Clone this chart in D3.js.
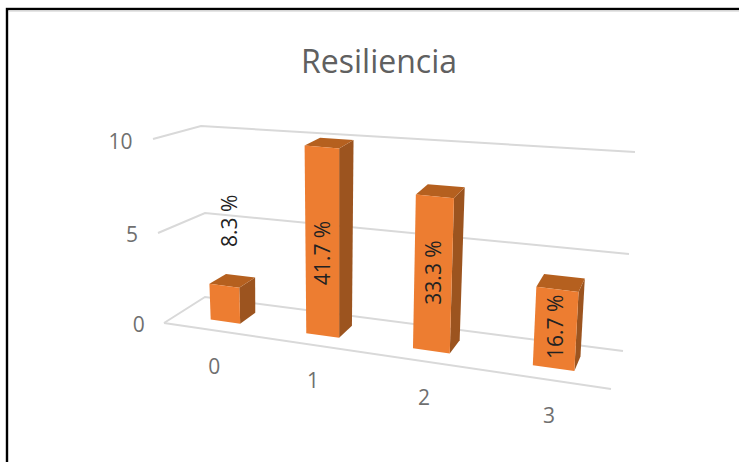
<!DOCTYPE html>
<html><head><meta charset="utf-8">
<script src="https://cdn.jsdelivr.net/npm/d3@7"></script>
<style>html,body{margin:0;padding:0;background:#fff}svg{display:block}text{font-family:"Open Sans",sans-serif}</style>
</head><body><div id="c"></div>
<script>
const title = "Resiliencia";
const categories = ["0","1","2","3"];
const values = [2,10,8,4];
const percentLabels = ["8.3 %","41.7 %","33.3 %","16.7 %"];
const labelLevels = [5.4,4.45,4.1,2.1];
const labelDepths = [0.42,0,0,0];
const ticks = [0,5,10];

const W=739,H=462;
const svg=d3.select("#c").append("svg").attr("width",W).attr("height",H);
svg.append("rect").attr("x",7).attr("y",9).attr("width",W+20).attr("height",H+20).attr("fill","#fff").attr("stroke","#000").attr("stroke-width",2.4);
svg.append("line").attr("x1",9).attr("x2",W).attr("y1",11.2).attr("y2",11.2).attr("stroke","#ddd").attr("stroke-width",1.2);

// corners per level: front-left, front-right, back-right, back-left
const quads=[
 [[164,323],[611,389],[623,351],[205,297]],
 [[158,233],[617,288],[629,254],[205,213]],
 [[153,139],[623,186],[635,152],[201,126]]
];
function homography(q){
 const [[x0,y0],[x1,y1],[x2,y2],[x3,y3]]=q;
 const dx1=x1-x2,dx2=x3-x2,sx=x0-x1+x2-x3,dy1=y1-y2,dy2=y3-y2,sy=y0-y1+y2-y3;
 const det=dx1*dy2-dx2*dy1;
 const g=(sx*dy2-dx2*sy)/det,h=(dx1*sy-sx*dy1)/det;
 const a=x1-x0+g*x1,b=x3-x0+h*x3,d=y1-y0+g*y1,e=y3-y0+h*y3;
 return (u,w)=>{const k=g*u+h*w+1;return [(a*u+b*w+x0)/k,(d*u+e*w+y0)/k];};
}
const floor=homography(quads[0]);
// per-corner height scales: value -> screen x / y
const cornerX=[0,1,2,3].map(i=>d3.scaleLinear().domain(ticks).range(quads.map(q=>q[i][0])));
const cornerY=[0,1,2,3].map(i=>d3.scaleLinear().domain(ticks).range(quads.map(q=>q[i][1])));
function project(u,w,v){
 const p=floor(u,w);
 const wts=[(1-u)*(1-w),u*(1-w),u*w,(1-u)*w];
 let dx=0,dy=0;
 wts.forEach((k,i)=>{dx+=k*(cornerX[i](v)-cornerX[i](0));dy+=k*(cornerY[i](v)-cornerY[i](0));});
 return [p[0]+dx,p[1]+dy];
}
const band=d3.scaleBand().domain(categories).range([0,1.02]).paddingInner(0.68).paddingOuter(0.38);
const depth=d3.scaleLinear().domain([0,1]).range([0.3,0.7]);
const line=d3.line();

// gridlines
const gridG=svg.append("g").attr("fill","none").attr("stroke","#d9d9d9").attr("stroke-width",2);
ticks.forEach(t=>gridG.append("path").attr("d",line([project(0,0,t),project(0,1,t),project(1,1,t)])));
gridG.append("path").attr("d",line([project(0,0,0),project(1,0,0)]));

// axis labels
const labelFill="#6f6f6f";
svg.append("g").selectAll("text").data(ticks).join("text")
 .attr("x",d=>project(-0.055,0,d)[0]).attr("y",d=>project(-0.055,0,d)[1]+6)
 .attr("text-anchor","end").attr("dominant-baseline","middle").attr("font-size",21).attr("fill",labelFill).text(d=>d);
svg.append("g").selectAll("text").data(categories).join("text")
 .attr("x",d=>project(band(d)+band.bandwidth()/2,0,0)[0]+1).attr("y",d=>project(band(d)+band.bandwidth()/2,0,0)[1]+38)
 .attr("text-anchor","middle").attr("dominant-baseline","middle").attr("font-size",21).attr("fill",labelFill).text(d=>d);

// bars
const bars=svg.append("g").selectAll("g").data(categories).join("g");
bars.each(function(c,i){
 const g=d3.select(this),v=values[i],u0=band(c),u1=u0+band.bandwidth(),w0=depth(0),w1=depth(1);
 const poly=(pts,fill)=>g.append("path").attr("d",line(pts)+"Z").attr("fill",fill);
 poly([project(u1,w0,0),project(u1,w1,0),project(u1,w1,v),project(u1,w0,v)],"#9c541f");
 poly([project(u0,w0,v),project(u1,w0,v),project(u1,w1,v),project(u0,w1,v)],"#b5601f");
 poly([project(u0,w0,0),project(u1,w0,0),project(u1,w0,v),project(u0,w0,v)],"#ed7d31");
});
// data labels
svg.append("g").selectAll("text").data(categories).join("text")
 .attr("transform",(c,i)=>{const p=project(band(c)+band.bandwidth()/2,depth(labelDepths[i]),labelLevels[i]);return `translate(${p[0]+2},${p[1]}) rotate(-90)`;})
 .attr("text-anchor","middle").attr("dominant-baseline","middle").attr("font-size",21).attr("fill","#222").text((c,i)=>percentLabels[i]);

svg.append("text").attr("x",379).attr("y",73).attr("text-anchor","middle").attr("font-size",32).attr("fill","#606060").text(title);
</script></body></html>
